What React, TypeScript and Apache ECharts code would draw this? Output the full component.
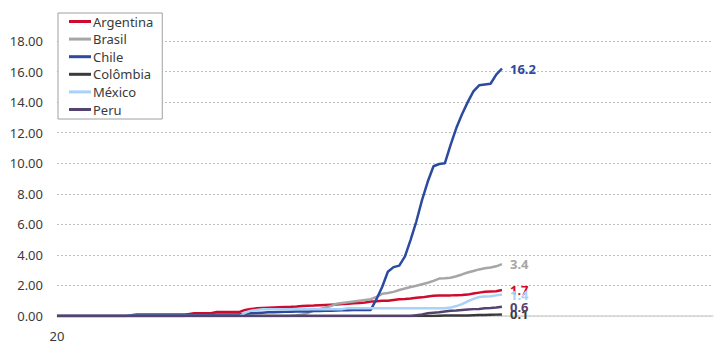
import React, { useEffect, useRef } from "react";
import * as echarts from "echarts";

const seriesNames = ["Argentina", "Brasil", "Chile", "Colômbia", "México", "Peru"];
const seriesColors = ["#cf0a2c", "#a6a6a6", "#2b4aa0", "#3a3a3a", "#a8d2f8", "#54426f"];

const xCategories = Array.from({ length: 116 }, (_, i) => String(20 + i));
const yTicks = { min: 0, max: 18, interval: 2 };

const argentina = [
  0, 0, 0, 0, 0, 0, 0, 0, 0, 0, 0, 0, 0, 0, 0, 0, 0, 0, 0, 0, 0, 0, 0,
  0.12, 0.18, 0.18, 0.18, 0.18, 0.27, 0.27, 0.27, 0.27, 0.27,
  0.4, 0.46, 0.5, 0.52, 0.54, 0.56, 0.58, 0.59, 0.6, 0.62, 0.65, 0.67, 0.68, 0.7, 0.72, 0.74,
  0.76, 0.78, 0.8, 0.83, 0.85, 0.88, 0.95, 0.97, 1.0, 1.0, 1.05, 1.1, 1.12, 1.15, 1.2, 1.22,
  1.28, 1.32, 1.34, 1.35, 1.35, 1.36, 1.37, 1.4, 1.47, 1.53, 1.58, 1.6, 1.62, 1.7,
];
const brasil = [
  0, 0, 0, 0, 0, 0, 0, 0, 0, 0, 0, 0, 0, 0, 0, 0, 0, 0, 0, 0, 0, 0, 0, 0, 0, 0, 0, 0, 0, 0,
  0, 0, 0, 0, 0, 0, 0, 0, 0, 0, 0,
  0.02, 0.05, 0.1, 0.2, 0.35, 0.45, 0.55, 0.65, 0.8, 0.85, 0.9, 0.95, 1.0, 1.05, 1.1, 1.25,
  1.45, 1.5, 1.58, 1.7, 1.8, 1.9, 1.98, 2.08, 2.18, 2.3, 2.45, 2.47, 2.5, 2.6, 2.72, 2.85,
  2.95, 3.05, 3.12, 3.18, 3.25, 3.4,
];
const chile = [
  0, 0, 0, 0, 0, 0, 0, 0, 0, 0, 0, 0, 0,
  0.05, 0.1, 0.1, 0.1, 0.1, 0.1, 0.1, 0.1, 0.1, 0.1, 0.1, 0.1, 0.1, 0.1, 0.1, 0.1, 0.1, 0.1, 0.1,
  0.12, 0.15, 0.18, 0.2, 0.22, 0.24, 0.25, 0.26, 0.27, 0.28, 0.29, 0.3, 0.3, 0.32, 0.33, 0.34,
  0.35, 0.36, 0.37, 0.38, 0.39, 0.4, 0.4, 0.4, 1.1, 1.9, 2.9, 3.2, 3.3, 3.9, 5.0, 6.2, 7.6,
  8.8, 9.8, 9.95, 10.0, 11.2, 12.3, 13.2, 14.0, 14.7, 15.1, 15.15, 15.2, 15.8, 16.2,
];
const colombia = [
  0, 0, 0, 0, 0, 0, 0, 0, 0, 0, 0, 0, 0, 0, 0, 0, 0, 0, 0, 0, 0, 0, 0, 0, 0, 0, 0, 0, 0, 0,
  0, 0, 0, 0, 0, 0, 0, 0, 0, 0, 0, 0, 0, 0, 0, 0, 0, 0, 0, 0, 0, 0, 0, 0, 0, 0, 0, 0, 0, 0,
  0, 0, 0, 0, 0, 0, 0,
  0.02, 0.03, 0.03, 0.03, 0.03, 0.03, 0.05, 0.06, 0.07, 0.08, 0.09, 0.1,
];
const mexico = [
  0, 0, 0, 0, 0, 0, 0, 0, 0, 0, 0, 0, 0, 0, 0, 0, 0, 0, 0, 0, 0, 0, 0, 0, 0, 0, 0, 0, 0, 0,
  0, 0, 0,
  0.2, 0.35, 0.4,
  0.45, 0.45, 0.45, 0.45, 0.45, 0.45, 0.45, 0.45, 0.45, 0.45, 0.45, 0.45, 0.45, 0.45, 0.45,
  0.5, 0.5, 0.5, 0.5, 0.5, 0.5, 0.5, 0.5, 0.5, 0.5, 0.5, 0.5, 0.5, 0.5, 0.5, 0.5, 0.5,
  0.5, 0.55, 0.65, 0.78, 0.95, 1.12, 1.24, 1.27, 1.3, 1.35, 1.4,
];
const peru = [
  0, 0, 0, 0, 0, 0, 0, 0, 0, 0, 0, 0, 0, 0, 0, 0, 0, 0, 0, 0, 0, 0, 0, 0, 0, 0, 0, 0, 0, 0,
  0, 0, 0, 0, 0, 0, 0, 0, 0, 0, 0, 0, 0, 0, 0, 0, 0, 0, 0, 0, 0, 0, 0, 0, 0, 0, 0, 0, 0, 0,
  0, 0, 0,
  0.05, 0.1, 0.18, 0.22, 0.25, 0.3, 0.35, 0.36, 0.4, 0.43, 0.45, 0.46, 0.5, 0.52, 0.55, 0.6,
];

const seriesData = [argentina, brasil, chile, colombia, mexico, peru];
const FONT = "'Noto Sans', sans-serif";

export default function App() {
  const ref = useRef<HTMLDivElement>(null);
  useEffect(() => {
    document.body.style.margin = "0";
    if (!ref.current) return;
    const chart = echarts.init(ref.current, null, { renderer: "svg" });
    chart.setOption({
      animation: false,
      textStyle: { fontFamily: FONT },
      grid: { left: 57, right: 2, top: 41, bottom: 25, containLabel: false },
      legend: {
        show: true,
        orient: "vertical",
        left: 58,
        top: 13,
        data: seriesNames,
        icon: "rect",
        itemWidth: 22,
        itemHeight: 3,
        itemGap: 4.6,
        padding: [2, 9, 3, 11],
        borderColor: "#a0a0a0",
        borderWidth: 1,
        backgroundColor: "#ffffff",
        textStyle: { fontFamily: FONT, fontSize: 13, color: "#3a3a3a", padding: [0, 0, 0, -3] },
      },
      xAxis: {
        type: "category",
        data: xCategories,
        boundaryGap: false,
        axisLine: { show: true, lineStyle: { color: "#d4d4d4", width: 1.5 } },
        axisTick: { show: false },
        axisLabel: {
          interval: (i: number) => i === 0,
          color: "#3a3a3a",
          fontSize: 13,
          margin: 13,
          fontFamily: FONT,
        },
        splitLine: { show: false },
      },
      yAxis: {
        type: "value",
        min: yTicks.min,
        max: yTicks.max,
        interval: yTicks.interval,
        axisLine: { show: false },
        axisTick: { show: false },
        axisLabel: {
          formatter: (v: number) => v.toFixed(2),
          color: "#3a3a3a",
          fontSize: 13,
          margin: 14,
          fontFamily: FONT,
        },
        splitLine: { show: true, lineStyle: { color: "#bdbdbd", type: [2, 2], width: 1 } },
      },
      series: seriesNames.map((name, i) => ({
        name,
        type: "line",
        data: seriesData[i],
        symbol: "none",
        showSymbol: false,
        color: seriesColors[i],
        lineStyle: { color: seriesColors[i], width: 2.5 },
        endLabel: {
          show: true,
          formatter: (p: any) => Number(p.value).toFixed(1),
          color: seriesColors[i],
          fontWeight: "bold",
          fontSize: 13,
          distance: 8,
          fontFamily: FONT,
        },
      })),
    });
    return () => chart.dispose();
  }, []);
  return <div ref={ref} style={{ width: 715, height: 342 }} />;
}
